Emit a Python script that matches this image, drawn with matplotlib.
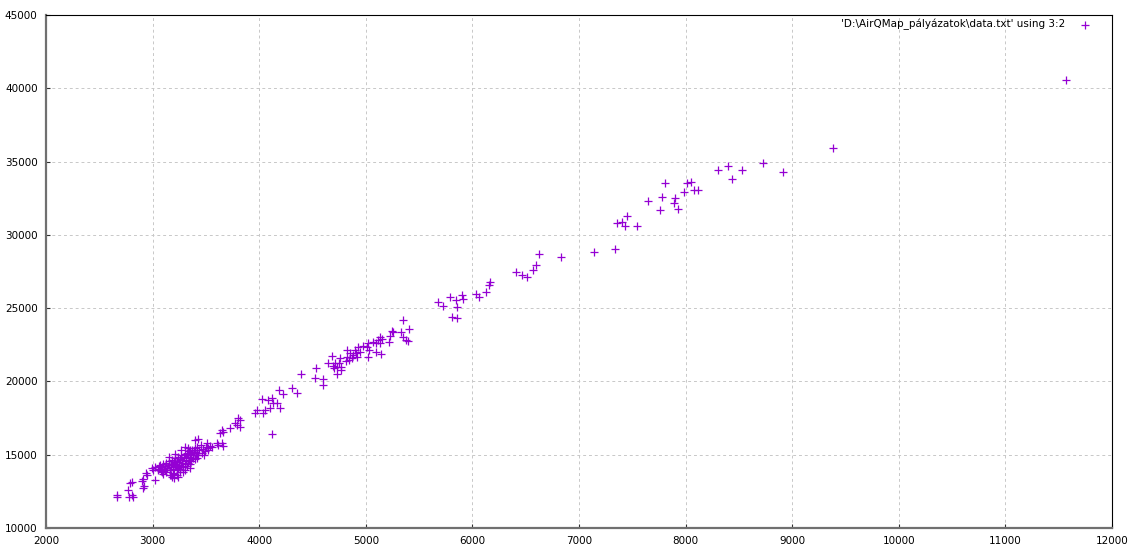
import matplotlib
matplotlib.use("Agg")
import matplotlib.pyplot as plt
import numpy as np

# column 3 (x) and column 2 (y) of data.txt
col3 = [
    11570, 9380, 8910, 8730, 8530, 8435, 8400, 8300, 8116, 8079, 8051, 8013,
    7985, 7929, 7900, 7891, 7807, 7779, 7760, 7647, 7544, 7450, 7432, 7403,
    7356, 7338, 7141, 6831, 6625, 6597, 6569, 6512, 6465, 6409, 6165, 6156,
    6128, 6062, 6034, 5902, 5912, 5846, 5856, 5790, 5724, 5675, 5809, 5856,
    5346, 5405, 5330, 5246, 5255, 5227, 5349, 5377, 5396, 5218, 5133, 5115,
    5152, 5133, 5068, 5096, 5021, 5011, 5030, 5096, 5143, 4974, 4927, 4899,
    4946, 4908, 4880, 4918, 4852, 4824, 4824, 4871, 4842, 4814, 5021, 4758,
    4749, 4730, 4767, 4767, 4730, 4711, 4692, 4702, 4683, 4645, 4533, 4392,
    4523, 4598, 4598, 4308, 4355, 4186, 4223, 4120, 4083, 4026, 4130, 4167,
    4195, 4101, 4054, 3979, 3961, 4036, 4120, 3820, 3820, 3792, 3801, 3773,
    3726, 3660, 3632, 3426, 3510, 3520, 3660, 3604, 3613, 3650, 3650, 3304,
    3351, 3398,
    2666, 2666, 2769, 2807, 2816, 2779, 2807, 2788, 2910, 2919, 2901, 2910,
    2938, 2947, 3023, 2994, 3004, 3023, 3051, 3069, 3088, 3116, 3163, 3182,
    3191, 3229, 3257,
    3050, 3060, 3075, 3090, 3100, 3105, 3120, 3125, 3130, 3140, 3150, 3155,
    3160, 3170, 3175, 3180, 3190, 3195, 3200, 3205, 3210, 3215, 3220, 3225,
    3230, 3235, 3240, 3245, 3250, 3255, 3260, 3265, 3270, 3275, 3280, 3285,
    3290, 3295, 3300, 3305, 3310, 3315, 3320, 3325, 3330, 3335, 3340, 3345,
    3350, 3355, 3360, 3365, 3370, 3375, 3380, 3390, 3395, 3400, 3410, 3415,
    3420, 3430, 3440, 3450, 3460, 3470, 3480, 3490, 3500, 3520, 3540, 3560,
    3400, 3270, 3330, 3210, 3150, 3100, 3170, 3240, 3350, 3420, 3300, 3200,
]
col2 = [
    40550, 35900, 34300, 34900, 34400, 33800, 34700, 34400, 33050, 33050, 33600, 33530,
    32920, 31760, 32510, 32170, 33530, 32570, 31690, 32300, 30600, 31280, 30600, 30870,
    30800, 29030, 28820, 28480, 28690, 27940, 27600, 27120, 27250, 27460, 26780, 26570,
    26100, 25750, 25960, 25890, 25620, 25550, 25070, 25750, 25160, 25430, 24390, 24320,
    24190, 23570, 23370, 23430, 23370, 23090, 23030, 22820, 22750, 22690, 23030, 22820,
    22890, 22620, 22690, 22620, 22620, 22340, 22140, 22000, 21870, 22410, 22340, 22140,
    22000, 21940, 21800, 21660, 21940, 22140, 21660, 21590, 21460, 21390, 21660, 21590,
    21250, 20980, 20980, 20780, 20500, 21250, 21050, 20910, 21730, 21250, 20910, 20500,
    20230, 20160, 19750, 19550, 19210, 19410, 19140, 18870, 18730, 18800, 18530, 18530,
    18180, 18180, 18050, 18050, 17840, 17840, 16410, 17370, 16890, 17020, 17500, 17160,
    16820, 16550, 16480, 16070, 15800, 15460, 15590, 15800, 15660, 15800, 16680, 15520,
    15320, 15320,
    12250, 12110, 12590, 12250, 12110, 12110, 13140, 13070, 12730, 12860, 13210, 13340,
    13750, 13610, 13270, 14090, 13960, 14160, 13960, 14300, 13820, 13960, 13610, 13480,
    13750, 13960, 13820,
    14050, 14250, 13900, 14150, 14350, 14000, 14200, 14450, 13850, 14100, 14300, 14550,
    13950, 14150, 14400, 14650, 14050, 14300, 14500, 13700, 14750, 14200, 14400, 14600,
    13600, 14100, 14850, 14300, 14500, 14700, 14000, 14250, 14950, 14450, 14650, 13800,
    14150, 14850, 14350, 15050, 14550, 14750, 14250, 15150, 14450, 14950, 14650, 15250,
    14850, 14400, 15050, 14600, 15350, 14800, 15000, 15200, 14700, 15450, 14950, 15150,
    15550, 15000, 15300, 15650, 15100, 15400, 15000, 15250, 15550, 15300, 15600, 15500,
    16000, 15300, 15450, 15050, 14850, 13700, 13600, 13500, 14100, 14750, 13950, 13400,
]

series_label = "'D:\\AirQMap_pályázatok\\data.txt' using 3:2"

plt.rcParams["font.family"] = "DejaVu Sans"
plt.rcParams["font.size"] = 7.5

fig = plt.figure(figsize=(11.32, 5.48), dpi=100)
ax = fig.add_axes([0.0406, 0.0365, 0.9417, 0.9361])

ax.scatter(col3, col2, marker="+", s=32, linewidths=0.9, color="#9400d3",
           label=series_label, zorder=3)

ax.set_xlim(2000, 12000)
ax.set_ylim(10000, 45000)
ax.set_xticks(np.arange(2000, 12001, 1000))
ax.set_yticks(np.arange(10000, 45001, 5000))

ax.grid(True, color="#c8c8c8", linestyle=(0, (3, 3)), linewidth=0.7)
ax.set_axisbelow(True)

for side in ["top", "right"]:
    ax.spines[side].set_color("black")
    ax.spines[side].set_linewidth(0.8)
for side in ["left", "bottom"]:
    ax.spines[side].set_color("#707070")
    ax.spines[side].set_linewidth(1.6)

ax.tick_params(direction="in", length=3, width=0.8, colors="#303030",
               labelcolor="black", pad=6)

leg = ax.legend(loc="upper right", bbox_to_anchor=(1.0, 1.025), frameon=False,
                markerfirst=False, fontsize=7.5, handletextpad=0.9,
                borderaxespad=1.2, scatterpoints=1)

fig.savefig("out.png", dpi=100)
